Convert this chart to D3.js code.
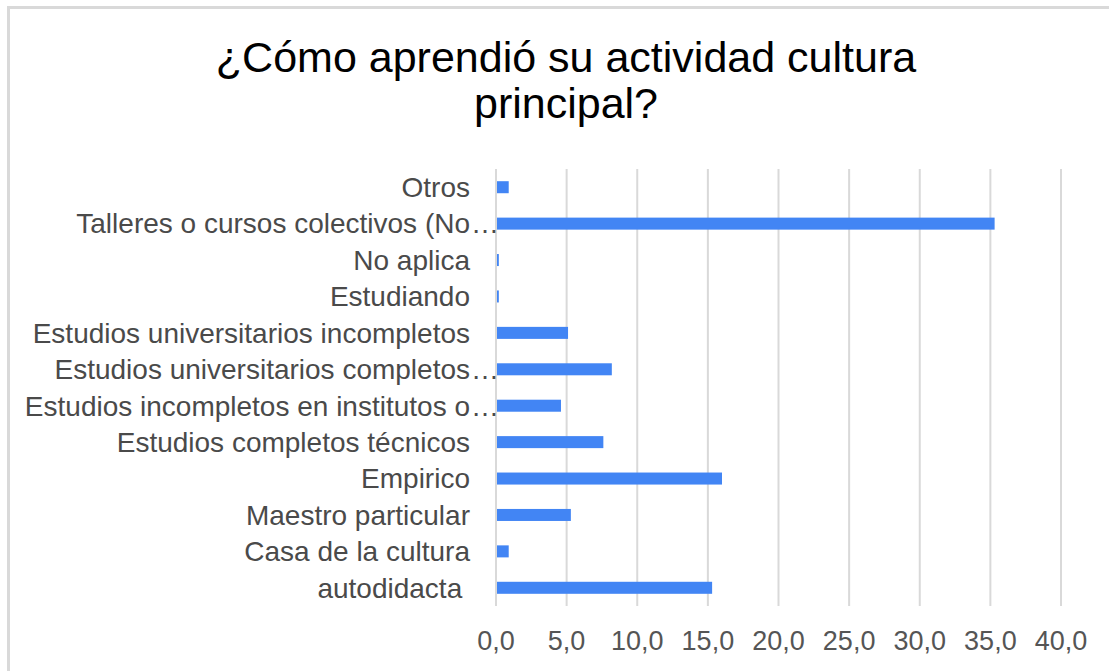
<!DOCTYPE html>
<html>
<head>
<meta charset="utf-8">
<script src="https://cdn.jsdelivr.net/npm/d3@7"></script>
<style>
  body { margin: 0; background: #fff; }
  text { font-family: "Liberation Sans", Arial, sans-serif; }
</style>
</head>
<body>
<svg width="1109" height="671"></svg>
<script>
var categories = ["Otros", "Talleres o cursos colectivos (No", "No aplica", "Estudiando",
  "Estudios universitarios incompletos", "Estudios universitarios completos",
  "Estudios incompletos en institutos o", "Estudios completos técnicos", "Empirico",
  "Maestro particular", "Casa de la cultura", "autodidacta "];
var truncated = [false, true, false, false, false, true, true, false, false, false, false, false];
var values = [0.9, 35.3, 0.2, 0.2, 5.1, 8.2, 4.6, 7.6, 16.0, 5.3, 0.9, 15.3];
var xTicks = [0, 5, 10, 15, 20, 25, 30, 35, 40];
var titleLines = ["¿Cómo aprendió su actividad cultura", "principal?"];

var data = categories.map(function(c, i) {
  return { name: c, value: values[i], cut: truncated[i] };
});

var svg = d3.select("svg"),
    width = +svg.attr("width"),
    height = +svg.attr("height");

// chart frame (only top and left edges are in view)
svg.append("rect")
    .attr("x", 8.5).attr("y", 7.5)
    .attr("width", 1200).attr("height", 800)
    .attr("fill", "none")
    .attr("stroke", "#d9d9d9")
    .attr("stroke-width", 3);

svg.append("text")
    .attr("text-anchor", "middle")
    .attr("fill", "#000")
    .style("font-size", "43px")
    .selectAll("tspan")
    .data(titleLines)
    .enter().append("tspan")
    .attr("x", 566)
    .attr("y", function(d, i) { return 72 + i * 46; })
    .text(function(d) { return d; });

var x = d3.scaleLinear().domain([0, 40]).range([496, 1061]);
var y = d3.scaleBand().domain(categories).range([169, 606]).paddingInner(0.67).paddingOuter(0.335);

svg.append("g")
  .selectAll("line")
  .data(xTicks)
  .enter().append("line")
    .attr("x1", function(d) { return x(d); })
    .attr("x2", function(d) { return x(d); })
    .attr("y1", 169).attr("y2", 606)
    .attr("stroke", "#d9d9d9")
    .attr("stroke-width", 2);

svg.append("g")
  .selectAll("rect")
  .data(data)
  .enter().append("rect")
    .attr("x", x(0) + 1)
    .attr("y", function(d) { return y(d.name); })
    .attr("width", function(d) { return Math.max(0, x(d.value) - x(0) - 1); })
    .attr("height", y.bandwidth())
    .attr("fill", "#4285f4");

var labels = svg.append("g")
    .style("font-size", "28px")
    .attr("fill", "#4a4a4a");

labels.selectAll("text.lab")
  .data(data)
  .enter().append("text")
    .attr("class", "lab")
    .attr("x", 470)
    .attr("y", function(d) { return y(d.name) + y.bandwidth() / 2; })
    .attr("dy", "0.35em")
    .attr("text-anchor", "end")
    .style("white-space", "pre")
    .text(function(d) { return d.name; });

labels.selectAll("text.ell")
  .data(data.filter(function(d) { return d.cut; }))
  .enter().append("text")
    .attr("class", "ell")
    .attr("x", 471)
    .attr("y", function(d) { return y(d.name) + y.bandwidth() / 2; })
    .attr("dy", "0.35em")
    .text("…");

svg.append("g")
    .style("font-size", "27px")
    .attr("fill", "#555")
  .selectAll("text")
  .data(xTicks)
  .enter().append("text")
    .attr("x", function(d) { return x(d); })
    .attr("y", 650)
    .attr("text-anchor", "middle")
    .text(function(d) { return d3.format(".1f")(d).replace(".", ","); });
</script>
</body>
</html>
